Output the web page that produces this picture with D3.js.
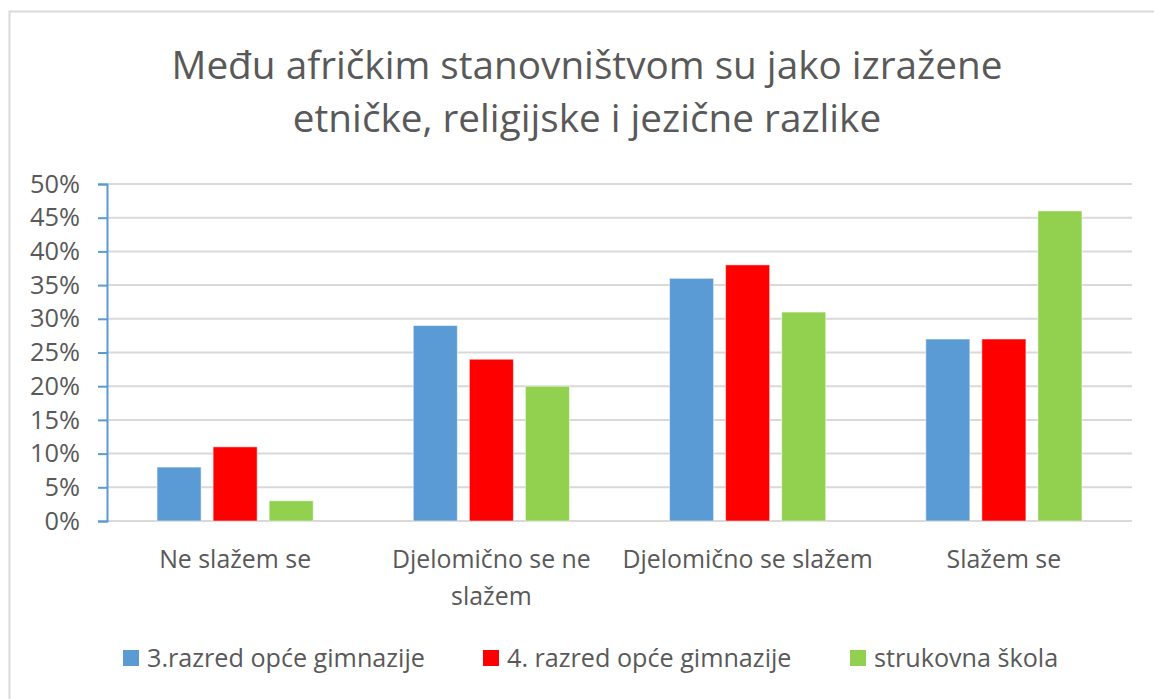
<!DOCTYPE html>
<html>
<head>
<meta charset="utf-8">
<script src="https://cdn.jsdelivr.net/npm/d3@7"></script>
<style>
  html, body { margin: 0; padding: 0; background: #fff; }
  svg { display: block; }
  text { font-family: "Open Sans", Lato, sans-serif; fill: #595959; }
</style>
</head>
<body>
<svg id="chart" width="1154" height="699"></svg>
<script>
const categories = [["Ne slažem se"], ["Djelomično se ne", "slažem"], ["Djelomično se slažem"], ["Slažem se"]];
const seriesNames = ["3.razred opće gimnazije", "4. razred opće gimnazije", "strukovna škola"];
const seriesColors = ["#5B9BD5", "#FF0000", "#92D050"];
const series1 = [8, 29, 36, 27];
const series2 = [11, 24, 38, 27];
const series3 = [3, 20, 31, 46];
const yTicks = [0, 5, 10, 15, 20, 25, 30, 35, 40, 45, 50];
const titleLines = ["Među afričkim stanovništvom su jako izražene", "etničke, religijske i jezične razlike"];

(function () {
const allSeries = [series1, series2, series3];
const svg = d3.select("#chart");

// fit a text selection's font size so that its first element spans target px
function fitSize(sel, base, target) {
  sel.style("font-size", base + "px");
  const w = sel.node().getComputedTextLength();
  const s = base * target / w;
  sel.style("font-size", s.toFixed(2) + "px");
  return s;
}

// chart border
svg.append("rect").attr("x", 9.5).attr("y", 11.5).attr("width", 1160).attr("height", 700)
  .attr("fill", "none").attr("stroke", "#d9d9d9").attr("stroke-width", 2);

const pLeft = 107, pRight = 1132, pTop = 184, pBottom = 521;
const catKeys = categories.map((c, i) => i);
const x0 = d3.scaleBand().domain(catKeys).range([pLeft, pRight]).paddingInner(0).paddingOuter(0);
const groupFrac = 156 / 256;
const x1 = d3.scaleBand().domain([0, 1, 2])
  .range([0, x0.bandwidth() * groupFrac]).paddingInner(12 / 56).paddingOuter(0);
const groupOffset = x0.bandwidth() * (1 - groupFrac) / 2;
const y = d3.scaleLinear().domain([0, 50]).range([pBottom, pTop]);

// gridlines
svg.append("g").selectAll("line").data(yTicks).join("line")
  .attr("x1", pLeft).attr("x2", pRight)
  .attr("y1", d => y(d)).attr("y2", d => y(d))
  .attr("stroke", "#d9d9d9").attr("stroke-width", 2);

// y axis
const yAxis = d3.axisLeft(y).tickValues(yTicks).tickSize(9).tickPadding(18)
  .tickFormat(d => d + "%");
const gy = svg.append("g").attr("transform", `translate(${pLeft},0)`).call(yAxis);
gy.select(".domain").attr("stroke", "#5B9BD5").attr("stroke-width", 2);
gy.selectAll(".tick line").attr("stroke", "#5B9BD5").attr("stroke-width", 2);
const tickTexts = gy.selectAll(".tick text").attr("fill", "#595959")
  .style("font-family", "'Open Sans', sans-serif");
const t50 = gy.selectAll(".tick text").filter(d => d === 50);
const tickSize = fitSize(t50, 20, 50);
tickTexts.style("font-size", tickSize.toFixed(2) + "px");

// bars
const groups = svg.append("g").selectAll("g").data(catKeys).join("g")
  .attr("transform", d => `translate(${x0(d) + groupOffset},0)`);
groups.selectAll("rect").data(ci => allSeries.map((s, si) => ({si, v: s[ci]}))).join("rect")
  .attr("x", d => x1(d.si))
  .attr("width", x1.bandwidth())
  .attr("y", d => y(d.v))
  .attr("height", d => y(0) - y(d.v))
  .attr("fill", d => seriesColors[d.si])
  .attr("stroke", "rgba(255,255,255,0.5)").attr("stroke-width", 1);

// category labels
const catG = svg.append("g");
const catTexts = [];
categories.forEach((lines, i) => {
  const t = catG.append("text").attr("text-anchor", "middle")
    .attr("x", x0(i) + x0.bandwidth() / 2).attr("y", 568);
  lines.forEach((ln, j) => {
    t.append("tspan").attr("x", x0(i) + x0.bandwidth() / 2).attr("dy", j === 0 ? 0 : 37).text(ln);
  });
  catTexts.push(t);
});
const catSize = fitSize(catTexts[0], 20, 152);
catG.selectAll("text").style("font-size", catSize.toFixed(2) + "px");

// title
const titleG = svg.append("g");
titleG.selectAll("text").data(titleLines).join("text")
  .attr("x", 587).attr("y", (d, i) => 79 + i * 53)
  .attr("text-anchor", "middle")
  .text(d => d);
const tSize = fitSize(titleG.select("text"), 32, 831);
titleG.selectAll("text").style("font-size", tSize.toFixed(2) + "px");

// legend
const legendX = [123, 483, 850];
const lg = svg.append("g").selectAll("g").data(seriesNames).join("g")
  .attr("transform", (d, i) => `translate(${legendX[i]},0)`);
lg.append("rect").attr("x", 0).attr("y", 650).attr("width", 16).attr("height", 16)
  .attr("fill", (d, i) => seriesColors[i]);
const lt = lg.append("text").attr("x", 24).attr("y", 667).text(d => d);
const lSize = fitSize(lt.filter((d, i) => i === 0), 20, 278);
lt.style("font-size", lSize.toFixed(2) + "px");
})();
</script>
</body>
</html>
